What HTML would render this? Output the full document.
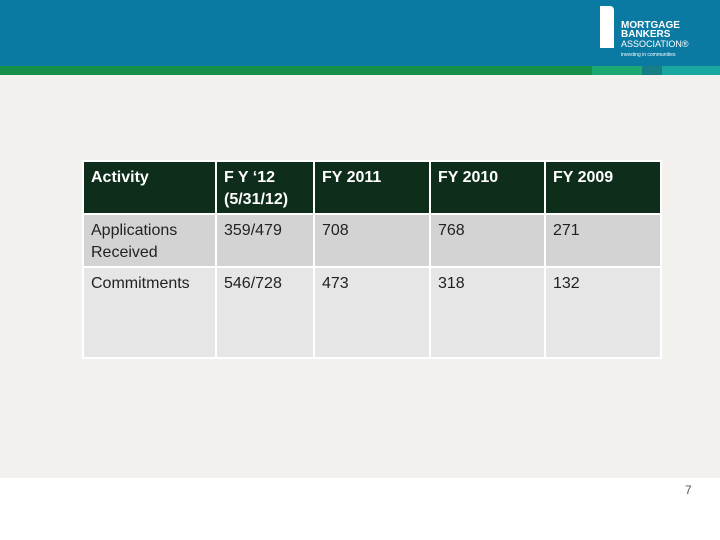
<!DOCTYPE html>
<html><head><style>
body{margin:0;width:720px;height:540px;overflow:hidden;background:#fff;font-family:"Liberation Sans",sans-serif;position:relative}
.abs{position:absolute}
table{border-collapse:collapse;position:absolute;left:82px;top:160px;width:578px;table-layout:fixed}
td{border:2px solid #fff;vertical-align:top;padding:5px 7px 0 7px;font-size:16px;line-height:22px;color:#222;overflow:hidden}
tr.h td{background:#0f2d1b;color:#fff;font-weight:bold}
tr.h{height:53px}
tr.r1 td{background:#d3d3d3}
tr.r1{height:53px}
tr.r2 td{background:#e6e6e6}
tr.r2{height:91px}
</style></head><body>
<div class="abs" style="left:0;top:0;width:720px;height:66px;background:#0a7aa3"></div>
<div class="abs" style="left:0;top:66px;width:592px;height:9px;background:#14904a"></div>
<div class="abs" style="left:592px;top:66px;width:50px;height:9px;background:#1ca873"></div>
<div class="abs" style="left:642px;top:66px;width:20px;height:9px;background:#177d86"></div>
<div class="abs" style="left:662px;top:66px;width:58px;height:9px;background:#1aa7a0"></div>
<div class="abs" style="left:0;top:75px;width:720px;height:403px;background:#f3f1ee"></div>
<div class="abs" style="left:600px;top:6px;width:118px;height:54px;color:#fff">
<div class="abs" style="left:0;top:0;width:14px;height:42px;background:#fff;border-radius:0 4px 0 0"></div>
<div class="abs" style="left:21px;top:15px;font-size:10px;font-weight:bold;line-height:9px">MORTGAGE<br>BANKERS</div>
<div class="abs" style="left:21px;top:34px;font-size:9px;line-height:9px">ASSOCIATION®</div>
<div class="abs" style="left:21px;top:46px;font-size:5px;line-height:6px">investing in communities</div>
</div>
<table>
<colgroup><col style="width:133px"><col style="width:98px"><col style="width:116px"><col style="width:115px"><col style="width:116px"></colgroup>
<tr class="h"><td>Activity</td><td>F Y ‘12 (5/31/12)</td><td>FY 2011</td><td>FY 2010</td><td>FY 2009</td></tr>
<tr class="r1"><td>Applications Received</td><td>359/479</td><td>708</td><td>768</td><td>271</td></tr>
<tr class="r2"><td>Commitments</td><td>546/728</td><td>473</td><td>318</td><td>132</td></tr>
</table>
<div class="abs" style="left:685px;top:483px;font-size:12px;color:#555">7</div>
</body></html>
